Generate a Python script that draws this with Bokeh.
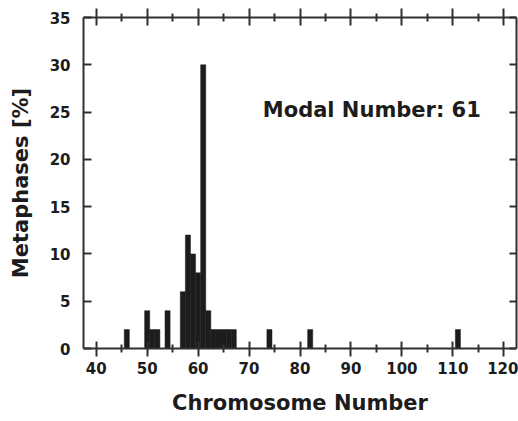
from bokeh.plotting import figure
from bokeh.models import (Range1d, LinearAxis, FixedTicker, Label, ColumnDataSource,
                          CustomLabelingPolicy)
from bokeh.embed import file_html
from bokeh.resources import INLINE

# Data
chromosomes = [46, 50, 51, 52, 54, 57, 58, 59, 60, 61, 62, 63, 64, 65, 66, 67, 74, 82, 111]
metaphases = [2, 4, 2, 2, 4, 6, 12, 10, 8, 30, 4, 2, 2, 2, 2, 2, 2, 2, 2]
x_major = [40, 50, 60, 70, 80, 90, 100, 110, 120]
x_minor = [45, 55, 65, 75, 85, 95, 105, 115]
y_major = [0, 5, 10, 15, 20, 25, 30, 35]
annotation = "Modal Number: 61"

FONT = "DejaVu Sans"
INK = "#1c1c1c"
AX = "#303030"

p = figure(width=518, height=421, output_backend="svg", toolbar_location=None,
           x_range=Range1d(37.5, 122.5), y_range=Range1d(0, 35),
           x_axis_type=None, y_axis_type=None,
           min_border_left=83, min_border_right=2, min_border_top=17, min_border_bottom=73)
p.outline_line_color = None
p.xgrid.visible = False
p.ygrid.visible = False
p.background_fill_color = "white"
p.border_fill_color = "white"

src = ColumnDataSource(dict(x=chromosomes, top=metaphases))
p.vbar(x="x", top="top", width=1.0, bottom=0, source=src,
       fill_color=INK, line_color=INK, line_width=0.5)

def style(ax, size="15px"):
    ax.axis_line_color = AX
    ax.axis_line_width = 2
    ax.major_tick_line_color = AX
    ax.major_tick_line_width = 2
    ax.minor_tick_line_color = AX
    ax.minor_tick_line_width = 2
    ax.major_label_text_font = FONT
    ax.major_label_text_font_style = "bold"
    ax.major_label_text_font_size = size
    ax.major_label_text_color = INK
    ax.axis_label_text_font = FONT
    ax.axis_label_text_font_style = "bold"
    ax.axis_label_text_font_size = "21px"
    ax.axis_label_text_color = INK

no_labels = CustomLabelingPolicy(code="return []")

# bottom axis
xb = LinearAxis(ticker=FixedTicker(ticks=x_major, minor_ticks=x_minor),
                axis_label="Chromosome Number")
style(xb)
xb.major_tick_in = 7
xb.major_tick_out = 8
xb.minor_tick_in = 4
xb.minor_tick_out = 4
xb.major_label_standoff = 5
xb.axis_label_standoff = 14
p.add_layout(xb, "below")

# top axis (ticks only)
xt = LinearAxis(ticker=FixedTicker(ticks=x_major, minor_ticks=x_minor),
                major_label_policy=no_labels)
style(xt, "0px")
xt.major_tick_in = 8
xt.major_tick_out = 9
xt.minor_tick_in = 4
xt.minor_tick_out = 4
xt.major_label_standoff = 0
p.add_layout(xt, "above")

# left axis
yl = LinearAxis(ticker=FixedTicker(ticks=y_major, minor_ticks=[]),
                axis_label="Metaphases [%]")
style(yl)
yl.major_tick_in = 8
yl.major_tick_out = 0
yl.minor_tick_in = 0
yl.minor_tick_out = 0
yl.major_label_standoff = 13
yl.axis_label_standoff = 14
p.add_layout(yl, "left")

# right axis (ticks only)
yr = LinearAxis(ticker=FixedTicker(ticks=y_major, minor_ticks=[]),
                major_label_policy=no_labels)
style(yr, "0px")
yr.major_tick_in = 7
yr.major_tick_out = 0
yr.minor_tick_in = 0
yr.minor_tick_out = 0
yr.major_label_standoff = 0
p.add_layout(yr, "right")

p.add_layout(Label(x=72.7, y=25.2, text=annotation, text_font=FONT,
                   text_font_style="bold", text_font_size="21px",
                   text_color=INK, text_align="left", text_baseline="alphabetic"))

open("out.html", "w").write(file_html(p, INLINE))
